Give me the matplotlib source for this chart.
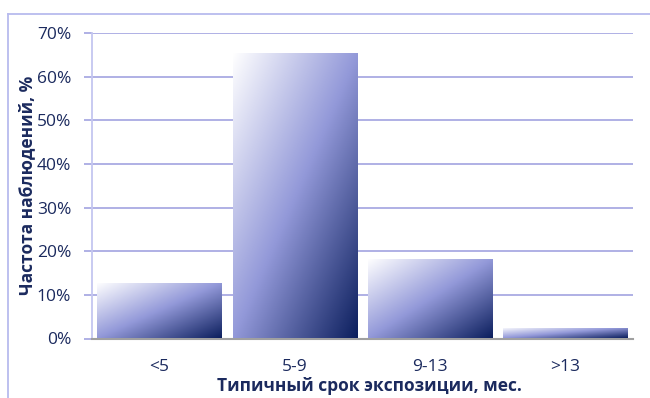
import numpy as np
import matplotlib
matplotlib.use("Agg")
import matplotlib.pyplot as plt
from matplotlib.colors import LinearSegmentedColormap
from matplotlib.lines import Line2D

categories = ["<5", "5-9", "9-13", ">13"]
values = [12.8, 65.5, 18.2, 2.3]
yticks = [0, 10, 20, 30, 40, 50, 60, 70]
ytick_labels = ["0%", "10%", "20%", "30%", "40%", "50%", "60%", "70%"]

plt.rcParams['font.family'] = ['Open Sans', 'DejaVu Sans']
text_color = "#1b2a5e"
grid_color = "#a9aae3"

fig = plt.figure(figsize=(6.5, 3.98), dpi=100)
ax = fig.add_axes([92/650, 1-338.5/398, (633-92)/650, (338.5-33)/398])

cmap = LinearSegmentedColormap.from_list("g", ["#ffffff", "#9399d9", "#0c1f5e"])
width = 0.92
x = np.arange(len(categories))
gy, gx = np.mgrid[0:1:200j, 0:1:200j]
grad = (gx + gy) / 2.0  # top-left light -> bottom-right dark (origin upper)
for xi, v in zip(x, values):
    bars = ax.bar(xi, v, width=width, color="none", edgecolor="none", zorder=3)
    r = bars[0]
    im = ax.imshow(grad, cmap=cmap, extent=[xi - width/2, xi + width/2, 0, v],
                   origin="upper", aspect="auto", zorder=3, interpolation="bilinear")
    im.set_clip_path(r)

ax.set_xlim(-0.5, len(categories) - 0.5)
ax.set_ylim(0, 70)
ax.set_xticks(x)
ax.set_xticklabels(categories)
ax.set_yticks(yticks)
ax.set_yticklabels(ytick_labels)
ax.yaxis.grid(True, color=grid_color, linewidth=1.3, zorder=0)
ax.set_axisbelow(True)
ax.tick_params(axis="y", length=6, color=grid_color, width=1.3, labelsize=12.5,
               labelcolor=text_color, pad=9)
ax.tick_params(axis="x", length=0, labelsize=12.5, labelcolor=text_color, pad=15)
for s in ["top", "right"]:
    ax.spines[s].set_visible(False)
ax.spines["left"].set_color("#c4c6f0")
ax.spines["left"].set_linewidth(1.3)
ax.spines["bottom"].set_color("#a0a0a0")
ax.spines["bottom"].set_linewidth(1.5)

ax.set_xlabel("Типичный срок экспозиции, мес.", fontsize=12.5, fontweight="bold",
              color=text_color, labelpad=2)
ax.xaxis.set_label_coords(0.513, -0.125)
ax.set_ylabel("Частота наблюдений, %", fontsize=12.5, fontweight="bold",
              color=text_color, labelpad=0)
ax.yaxis.set_label_coords(-0.103, 0.5)

# outer chart border (top and left visible)
fig.add_artist(Line2D([7.5/650, 7.5/650], [0, 1-13.5/398], transform=fig.transFigure,
                      color="#b8bbee", linewidth=1.3))
fig.add_artist(Line2D([7.5/650, 1], [1-13.5/398, 1-13.5/398], transform=fig.transFigure,
                      color="#b8bbee", linewidth=1.3))

fig.savefig("out.png", dpi=100)
